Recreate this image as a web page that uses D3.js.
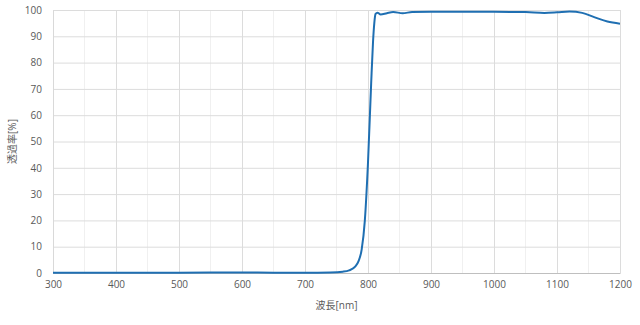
<!DOCTYPE html>
<html>
<head>
<meta charset="utf-8">
<script src="https://cdn.jsdelivr.net/npm/d3@7"></script>
<style>
  html, body { margin: 0; padding: 0; background: #fff; }
  text { font-family: "Open Sans", "Noto Sans CJK JP", sans-serif; }
</style>
</head>
<body>
<div id="chart"></div>
<script>
// Transmission spectrum
const wavelengths = [300, 400, 500, 600, 650, 700, 740, 760, 770, 780, 785, 790, 795, 800, 805, 808, 810, 812, 815, 820, 830, 840, 855, 870, 900, 950, 1000, 1050, 1080, 1100, 1120, 1140, 1160, 1180, 1200]
const transmittance = [0.1, 0.1, 0.1, 0.2, 0.1, 0.1, 0.2, 0.5, 1.0, 2.5, 4.5, 9, 20, 42, 72, 88, 95, 98.5, 99, 98.3, 98.8, 99.2, 98.8, 99.2, 99.3, 99.3, 99.3, 99.2, 98.9, 99.1, 99.4, 98.9, 97.2, 95.6, 94.8]
const xTicks = [300, 400, 500, 600, 700, 800, 900, 1000, 1100, 1200]
const xMinor = [350, 450, 550, 650, 750, 850, 950, 1050, 1150]
const yTicks = [0, 10, 20, 30, 40, 50, 60, 70, 80, 90, 100]
const xTitle = "波長[nm]"
const yTitle = "透過率[%]"

const width = 640
const height = 325
const margin = { top: 10, right: 20, bottom: 52, left: 53 }
const innerW = width - margin.left - margin.right
const innerH = height - margin.top - margin.bottom

const svg = d3.select("#chart")
  .append("svg")
  .attr("width", width)
  .attr("height", height)

const g = svg.append("g")
  .attr("transform", `translate(${margin.left},${margin.top})`)

const x = d3.scaleLinear().domain([300, 1200]).range([0, innerW])
const y = d3.scaleLinear().domain([0, 100]).range([innerH, 0])

// Minor vertical grid
g.append("g")
  .selectAll("line")
  .data(xMinor)
  .join("line")
  .attr("x1", d => x(d)).attr("x2", d => x(d))
  .attr("y1", 0).attr("y2", innerH)
  .attr("stroke", "#f0f0f0")
  .attr("stroke-width", 1)

// Horizontal grid
g.append("g")
  .call(d3.axisLeft(y).tickValues(yTicks).tickSize(-innerW).tickFormat(""))
  .call(ax => ax.select(".domain").remove())
  .call(ax => ax.selectAll("line").attr("stroke", "#dcdcdc"))

// Major vertical grid
g.append("g")
  .call(d3.axisBottom(x).tickValues(xTicks).tickSize(innerH).tickFormat(""))
  .call(ax => ax.select(".domain").remove())
  .call(ax => ax.selectAll("line").attr("stroke", "#dcdcdc"))

// Y axis labels
g.append("g")
  .call(d3.axisLeft(y).tickValues(yTicks).tickSize(0).tickPadding(11))
  .call(ax => ax.select(".domain").attr("stroke", "#d9d9d9"))
  .call(ax => ax.selectAll("text").attr("fill", "#595959").attr("font-size", "10px"))

// X axis labels
g.append("g")
  .attr("transform", `translate(0,${innerH})`)
  .call(d3.axisBottom(x).tickValues(xTicks).tickSize(0).tickPadding(8).tickFormat(d3.format("d")))
  .call(ax => ax.select(".domain").attr("stroke", "#bfbfbf"))
  .call(ax => ax.selectAll("text").attr("fill", "#595959").attr("font-size", "10px"))

// Data line
const points = wavelengths.map((w, i) => [w, transmittance[i]])
const line = d3.line()
  .x(d => x(d[0]))
  .y(d => y(d[1]))
  .curve(d3.curveMonotoneX)

g.append("path")
  .attr("d", line(points))
  .attr("fill", "none")
  .attr("stroke", "#1f6fb2")
  .attr("stroke-width", 2)

// Axis titles
svg.append("text")
  .attr("x", margin.left + innerW / 2)
  .attr("y", 309)
  .attr("text-anchor", "middle")
  .attr("fill", "#595959")
  .attr("font-size", "10px")
  .attr("font-family", "'Noto Sans CJK JP', sans-serif")
  .text(xTitle)

svg.append("text")
  .attr("transform", `translate(16,${margin.top + innerH / 2}) rotate(-90)`)
  .attr("text-anchor", "middle")
  .attr("fill", "#595959")
  .attr("font-size", "10px")
  .attr("font-family", "'Noto Sans CJK JP', sans-serif")
  .text(yTitle)
</script>
</body>
</html>
